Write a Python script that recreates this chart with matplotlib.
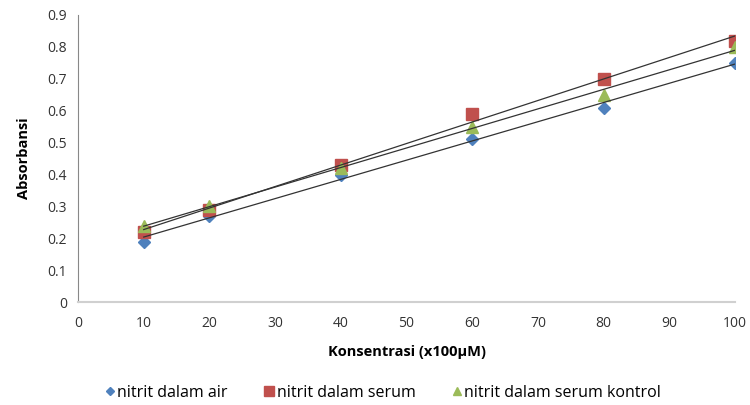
import matplotlib
matplotlib.use("Agg")
import matplotlib.pyplot as plt
import numpy as np

plt.rcParams['font.family'] = ['Open Sans', 'DejaVu Sans']

x = [10, 20, 40, 60, 80, 100]
air = [0.19, 0.27, 0.40, 0.51, 0.61, 0.75]
serum = [0.22, 0.29, 0.43, 0.59, 0.70, 0.82]
kontrol = [0.24, 0.30, 0.42, 0.55, 0.65, 0.80]
labels = ["nitrit dalam air", "nitrit dalam serum", "nitrit dalam serum kontrol"]
colors = ["#4F81BD", "#C0504D", "#9BBB59"]
markers = ["D", "s", "^"]
sizes = [6.5, 9, 9]

fig = plt.figure(figsize=(7.5, 4.05), dpi=100)
ax = fig.add_axes([0.104, 0.254, 0.876, 0.709])

xa = np.array(x, dtype=float)
for ys, c, m, s, lab in zip([air, serum, kontrol], colors, markers, sizes, labels):
    ax.plot(x, ys, linestyle='none', marker=m, color=c, markersize=s,
            markeredgecolor=c, label=lab, zorder=3)
for ys in [air, serum, kontrol]:
    k, b = np.polyfit(xa, np.array(ys), 1)
    xx = np.array([xa.min(), xa.max()])
    ax.plot(xx, k * xx + b, color='#333333', lw=0.9, zorder=4)

ax.set_xlim(0, 100)
ax.set_ylim(0, 0.9)
ax.set_xticks(np.arange(0, 101, 10))
ax.set_yticks(np.round(np.arange(0, 0.91, 0.1), 1))
ax.set_yticklabels(['0'] + [f"{v:.1f}" for v in np.arange(0.1, 0.91, 0.1)])
ax.tick_params(length=0, labelsize=10, colors='#333333', pad=8)
ax.tick_params(axis='x', pad=10)
for sp in ['top', 'right']:
    ax.spines[sp].set_visible(False)
ax.spines['left'].set_color('#888888')
ax.spines['left'].set_linewidth(0.8)
ax.spines['bottom'].set_color('#D0D0D0')
ax.spines['bottom'].set_linewidth(1.5)

ax.set_xlabel("Konsentrasi (x100µM)", fontsize=10.5, fontweight='bold', labelpad=10)
ax.set_ylabel("Absorbansi", fontsize=10.5, fontweight='bold', labelpad=12)

leg_handles = [
    plt.Line2D([], [], linestyle='none', marker='D', color=colors[0], markersize=4.5),
    plt.Line2D([], [], linestyle='none', marker='s', color=colors[1], markersize=6.5),
    plt.Line2D([], [], linestyle='none', marker='^', color=colors[2], markersize=6),
]
fig.legend(leg_handles, labels, loc='center', bbox_to_anchor=(0.51, 0.03), ncol=3,
           frameon=False, fontsize=11.5, handletextpad=0.05, columnspacing=2.2,
           handlelength=0.8)

fig.savefig("out.png", dpi=100)
